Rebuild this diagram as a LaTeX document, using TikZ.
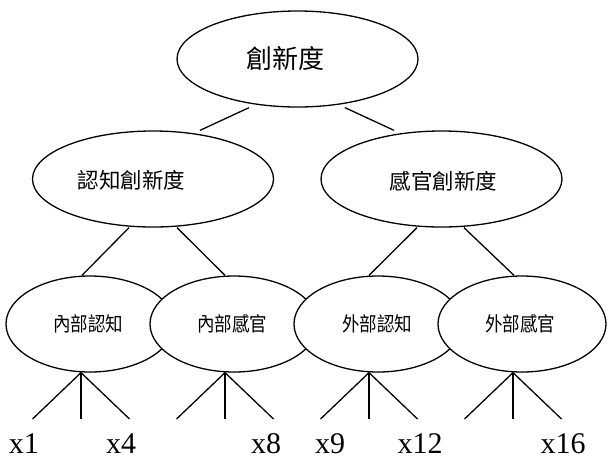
\documentclass[tikz,border=0pt]{standalone}
\usepackage{fontspec}
\usepackage{graphicx}
\setmainfont{Liberation Serif}
\newfontfamily\cjk{Noto Sans CJK TC}
\usetikzlibrary{shapes.geometric}
\begin{document}
\begin{tikzpicture}[x=1pt,y=-1pt,line width=1.3pt,
  oval/.style={draw, ellipse, inner sep=0pt, fill=white},
  bigoval/.style={oval, minimum width=241pt, minimum height=96pt},
  smalloval/.style={oval, minimum width=168pt, minimum height=96pt},
  toptext/.style={inner sep=0pt, font=\cjk\fontsize{26}{26}\selectfont},
  midtext/.style={inner sep=0pt, font=\cjk\fontsize{21.5}{21.5}\selectfont},
  lowtext/.style={inner sep=0pt, font=\cjk\fontsize{20}{20}\selectfont},
  lab/.style={inner sep=0pt, anchor=base, font=\fontsize{30}{30}\selectfont}]
\useasboundingbox (0,0) rectangle (608,459);
\fill[white] (0,0) rectangle (608,459);

% top
\node[bigoval] (T) at (297.5,59) {};
\node[toptext] (Tt) at (285.5,59) {創新度};
% middle
\node[bigoval] (L) at (153,179) {};
\node[midtext] (Lt) at (131.5,180) {認知創新度};
\node[bigoval] (R) at (441.5,179) {};
\node[midtext] (Rt) at (443.5,181) {感官創新度};
% bottom
\node[smalloval] (E1) at (90,324) {};
\node[lowtext] (E1t) at (88,324) {\scalebox{0.875}[1]{內部認知}};
\node[smalloval] (E2) at (234,324) {};
\node[lowtext] (E2t) at (232,324) {\scalebox{0.875}[1]{內部感官}};
\node[smalloval] (E3) at (378,324) {};
\node[lowtext] (E3t) at (377,324) {\scalebox{0.875}[1]{外部認知}};
\node[smalloval] (E4) at (522,324) {};
\node[lowtext] (E4t) at (520,324) {\scalebox{0.875}[1]{外部感官}};

% connectors top -> middle
\draw ([xshift=-48.5pt]T.south) -- ([xshift=47pt]L.north);
\draw ([xshift=47.5pt]T.south) -- ([xshift=-47.5pt]R.north);
% middle -> bottom
\draw ([xshift=-24pt]L.south) -- ([xshift=-8pt]E1.north);
\draw ([xshift=24pt]L.south) -- ([xshift=-9pt]E2.north);
\draw ([xshift=-24.5pt]R.south) -- ([xshift=-9pt]E3.north);
\draw ([xshift=22.5pt]R.south) -- ([xshift=-8pt]E4.north);

% leaf ends
\coordinate (a1) at (32.5,419); \coordinate (a2) at (81,419); \coordinate (a3) at (129.5,419);
\coordinate (b1) at (176.5,419); \coordinate (b2) at (225,419); \coordinate (b3) at (273.5,419);
\coordinate (c1) at (320.5,419); \coordinate (c2) at (369,419); \coordinate (c3) at (417.5,419);
\coordinate (d1) at (464.5,419); \coordinate (d2) at (513,419); \coordinate (d3) at (561.5,419);
\foreach \n/\p in {E1/a, E2/b, E3/c, E4/d}{
  \draw ([xshift=-9pt]\n.south) -- (\p1);
  \draw ([xshift=-9pt]\n.south) -- (\p2);
  \draw ([xshift=-9pt]\n.south) -- (\p3);
}

% labels
\node[lab] (x1) at (24,453) {x1};
\node[lab] (x4) at (121,453) {x4};
\node[lab] (x8) at (266,453) {x8};
\node[lab] (x9) at (330,453) {x9};
\node[lab] (x12) at (420,453) {x12};
\node[lab] (x16) at (563,453) {x16};
\end{tikzpicture}
\end{document}
